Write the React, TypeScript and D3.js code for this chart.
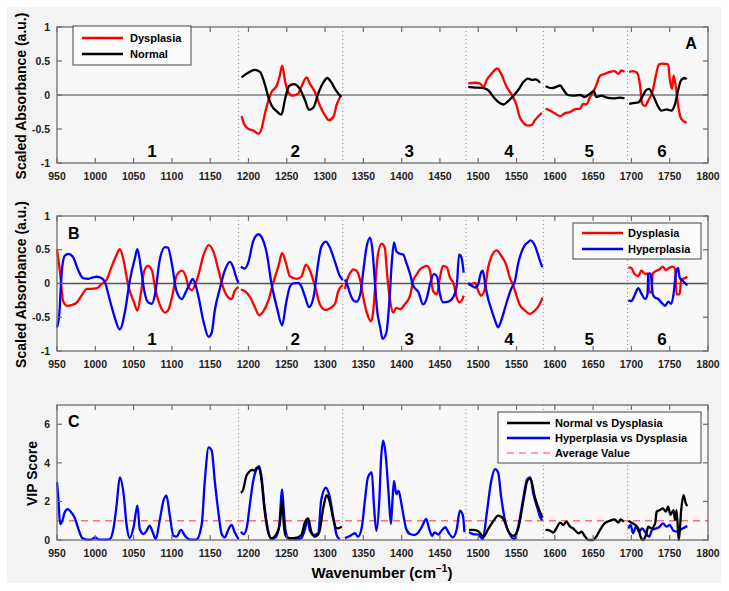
import React, { useRef, useEffect } from "react";
import * as d3 from "d3";

type Pt = [number, number];

// shared x layout
const xTicks = d3.range(950, 1801, 50);
const regionEdges = [1187, 1323, 1484, 1585, 1695];
const regionNames = ["1", "2", "3", "4", "5", "6"];
const regionCenters = [1074, 1261, 1410, 1540, 1645, 1740];
const absTicks = [-1, -0.5, 0, 0.5, 1];
const vipTicks = [0, 2, 4, 6];
const vipAverage = 1;

// panel A: Dysplasia vs Normal loadings
const dysplasiaA: Pt[][] = [
  [[1191, -0.31], [1194, -0.42], [1200, -0.5], [1206, -0.52], [1213, -0.57], [1217, -0.5], [1221, -0.3], [1226, -0.08], [1230, 0.04], [1237, 0.14], [1241, 0.29], [1244, 0.43], [1248, 0.19], [1252, 0.04], [1258, -0.01], [1265, 0.02], [1269, 0.12], [1276, 0.26], [1280, 0.17], [1287, 0.04], [1293, -0.15], [1300, -0.3], [1305, -0.37], [1311, -0.32], [1315, -0.15], [1321, 0.0]],
  [[1487, 0.17], [1496, 0.18], [1502, 0.17], [1507, 0.12], [1511, 0.22], [1517, 0.31], [1525, 0.39], [1530, 0.31], [1537, 0.12], [1544, 0.0], [1550, -0.15], [1554, -0.32], [1559, -0.41], [1565, -0.45], [1570, -0.44], [1574, -0.37], [1578, -0.32], [1583, -0.26]],
  [[1588, -0.2], [1594, -0.23], [1600, -0.27], [1607, -0.31], [1613, -0.27], [1620, -0.25], [1626, -0.21], [1633, -0.2], [1637, -0.13], [1641, -0.14], [1646, -0.03], [1650, 0.04], [1654, 0.14], [1659, 0.28], [1665, 0.31], [1672, 0.34], [1678, 0.35], [1683, 0.31], [1687, 0.36], [1691, 0.34]],
  [[1697, 0.34], [1702, 0.35], [1707, 0.33], [1711, 0.17], [1714, -0.13], [1718, -0.16], [1722, -0.08], [1728, 0.07], [1732, 0.29], [1736, 0.45], [1741, 0.46], [1748, 0.45], [1750, 0.24], [1753, 0.09], [1755, 0.29], [1758, 0.12], [1761, -0.15], [1765, -0.35], [1772, -0.41]],
];
const normalA: Pt[][] = [
  [[1191, 0.26], [1200, 0.33], [1208, 0.37], [1215, 0.34], [1221, 0.17], [1226, -0.03], [1230, -0.15], [1237, -0.24], [1243, -0.29], [1248, -0.05], [1253, 0.13], [1259, 0.16], [1267, 0.09], [1274, -0.08], [1279, -0.22], [1285, -0.18], [1291, 0.02], [1298, 0.19], [1303, 0.25], [1308, 0.19], [1314, 0.07], [1321, -0.03]],
  [[1487, 0.12], [1496, 0.11], [1507, 0.1], [1513, 0.07], [1520, -0.03], [1526, -0.1], [1533, -0.14], [1539, -0.09], [1546, -0.01], [1552, 0.07], [1559, 0.19], [1565, 0.24], [1571, 0.22], [1575, 0.23], [1581, 0.18]],
  [[1588, 0.13], [1596, 0.1], [1602, 0.12], [1607, 0.14], [1611, 0.08], [1617, 0.0], [1624, -0.01], [1633, 0.0], [1639, -0.03], [1646, 0.02], [1651, 0.06], [1654, -0.03], [1661, -0.01], [1668, -0.04], [1676, -0.05], [1685, -0.04], [1691, -0.05]],
  [[1697, -0.13], [1702, -0.12], [1709, -0.11], [1714, -0.03], [1719, 0.07], [1723, 0.09], [1728, 0.0], [1734, -0.15], [1739, -0.23], [1746, -0.21], [1752, -0.23], [1757, -0.13], [1761, 0.07], [1765, 0.22], [1770, 0.25], [1772, 0.23]],
];

// panel B: Dysplasia vs Hyperplasia loadings
const dysplasiaB: Pt[][] = [
  [[950, 0.51], [954, 0.16], [958, -0.26], [963, -0.33], [969, -0.32], [976, -0.28], [982, -0.18], [989, -0.08], [995, -0.08], [1002, -0.07], [1008, -0.01], [1015, 0.06], [1021, 0.24], [1028, 0.43], [1032, 0.51], [1037, 0.34], [1043, -0.03], [1050, -0.26], [1055, -0.4], [1060, -0.11], [1064, 0.19], [1069, 0.26], [1074, 0.19], [1078, -0.06], [1084, -0.31], [1091, -0.43], [1095, -0.4], [1100, -0.21], [1106, 0.11], [1113, 0.19], [1118, 0.11], [1122, -0.06], [1126, -0.1], [1130, -0.03], [1135, 0.14], [1141, 0.41], [1148, 0.57], [1154, 0.48], [1161, 0.19], [1167, -0.06], [1174, -0.21], [1178, -0.23], [1182, -0.11], [1187, -0.05]],
  [[1190, -0.09], [1195, -0.11], [1202, -0.2], [1208, -0.34], [1214, -0.47], [1219, -0.42], [1226, -0.25], [1232, 0.0], [1239, 0.25], [1244, 0.45], [1249, 0.3], [1254, 0.11], [1263, 0.07], [1269, 0.1], [1275, 0.28], [1280, 0.2], [1287, -0.05], [1293, -0.3], [1300, -0.39], [1306, -0.37], [1313, -0.3], [1317, -0.12], [1323, -0.02]],
  [[1326, -0.08], [1329, 0.06], [1333, 0.16], [1337, 0.21], [1341, 0.19], [1346, 0.04], [1350, -0.21], [1355, -0.45], [1360, -0.56], [1363, -0.4], [1366, 0.04], [1369, 0.43], [1374, 0.59], [1378, 0.53], [1381, 0.14], [1385, -0.26], [1389, -0.43], [1393, -0.36], [1398, -0.38], [1404, -0.31], [1411, -0.18], [1415, 0.04], [1420, 0.14], [1424, 0.21], [1428, 0.24], [1433, 0.26], [1437, 0.19], [1441, -0.11], [1446, -0.16], [1450, 0.09], [1454, 0.26], [1459, 0.24], [1463, 0.09], [1468, -0.01], [1472, -0.21], [1475, -0.28], [1478, -0.26], [1481, -0.18]],
  [[1487, -0.02], [1491, -0.01], [1496, 0.01], [1500, -0.11], [1504, -0.18], [1509, -0.06], [1513, 0.24], [1517, 0.39], [1524, 0.49], [1530, 0.41], [1537, 0.26], [1541, 0.09], [1545, -0.01], [1550, -0.18], [1554, -0.31], [1561, -0.4], [1567, -0.45], [1574, -0.4], [1580, -0.31], [1584, -0.21]],
  [[1696, 0.24], [1700, 0.23], [1704, 0.14], [1709, 0.11], [1713, 0.19], [1718, 0.14], [1722, 0.15], [1723, -0.13], [1726, -0.13], [1728, 0.15], [1733, 0.19], [1737, 0.21], [1741, 0.25], [1745, 0.2], [1749, 0.23], [1754, 0.25], [1757, 0.21], [1759, -0.16], [1763, -0.16], [1765, 0.06], [1770, 0.08], [1773, 0.1]],
];
const hyperplasiaB: Pt[][] = [
  [[950, -0.65], [953, -0.45], [956, 0.14], [960, 0.41], [965, 0.44], [971, 0.39], [978, 0.19], [984, 0.08], [991, 0.07], [997, 0.09], [1002, 0.1], [1008, 0.08], [1013, 0.01], [1017, -0.16], [1024, -0.45], [1032, -0.68], [1039, -0.4], [1045, 0.04], [1052, 0.39], [1055, 0.51], [1060, 0.19], [1064, -0.11], [1069, -0.28], [1074, -0.3], [1078, -0.16], [1084, 0.34], [1091, 0.54], [1095, 0.53], [1100, 0.29], [1106, -0.11], [1113, -0.23], [1118, -0.13], [1124, 0.01], [1127, 0.07], [1130, 0.01], [1135, -0.21], [1141, -0.55], [1148, -0.79], [1152, -0.73], [1156, -0.4], [1163, -0.06], [1169, 0.19], [1176, 0.32], [1180, 0.24], [1185, 0.06], [1187, 0.01]],
  [[1190, 0.25], [1195, 0.22], [1200, 0.32], [1206, 0.62], [1213, 0.73], [1217, 0.69], [1224, 0.44], [1230, 0.0], [1237, -0.35], [1244, -0.62], [1249, -0.3], [1254, -0.05], [1258, 0.0], [1265, 0.01], [1269, -0.04], [1274, -0.2], [1279, -0.35], [1285, -0.2], [1291, 0.3], [1295, 0.54], [1301, 0.62], [1306, 0.54], [1313, 0.32], [1319, 0.12], [1323, 0.05]],
  [[1326, 0.06], [1329, -0.02], [1333, -0.16], [1337, -0.25], [1341, -0.27], [1346, -0.16], [1350, 0.19], [1354, 0.53], [1359, 0.68], [1362, 0.48], [1365, 0.04], [1368, -0.4], [1372, -0.65], [1375, -0.82], [1380, -0.73], [1384, -0.26], [1387, 0.29], [1390, 0.61], [1393, 0.48], [1398, 0.44], [1402, 0.43], [1406, 0.31], [1411, 0.14], [1415, -0.03], [1422, -0.13], [1428, -0.31], [1433, -0.21], [1437, -0.01], [1442, 0.14], [1446, 0.11], [1450, -0.16], [1454, -0.28], [1461, -0.27], [1467, -0.21], [1472, -0.03], [1475, 0.43], [1478, 0.39], [1481, 0.16]],
  [[1487, 0.01], [1491, -0.03], [1496, -0.06], [1500, -0.01], [1503, 0.14], [1506, 0.19], [1509, -0.01], [1513, -0.23], [1517, -0.38], [1522, -0.55], [1526, -0.65], [1530, -0.55], [1535, -0.36], [1539, -0.21], [1543, -0.08], [1548, 0.04], [1552, 0.29], [1557, 0.48], [1561, 0.57], [1565, 0.61], [1568, 0.64], [1574, 0.56], [1578, 0.43], [1582, 0.29], [1584, 0.24]],
  [[1696, -0.25], [1700, -0.26], [1704, -0.18], [1709, -0.07], [1713, -0.15], [1718, -0.23], [1721, -0.16], [1722, 0.14], [1725, 0.15], [1728, -0.16], [1731, -0.21], [1735, -0.23], [1739, -0.28], [1744, -0.33], [1748, -0.27], [1752, -0.3], [1755, -0.16], [1758, 0.14], [1761, 0.23], [1763, 0.09], [1767, 0.04], [1773, -0.03]],
];

// panel C: VIP scores
const normalVsDysC: Pt[][] = [
  [[1190, 2.45], [1193, 2.6], [1197, 3.28], [1201, 3.54], [1205, 3.63], [1208, 3.6], [1211, 3.75], [1214, 3.71], [1217, 3.1], [1221, 1.55], [1226, 0.35], [1230, 0.09], [1237, 0.35], [1241, 0.86], [1244, 2.07], [1246, 0.86], [1249, 0.17], [1254, 0.09], [1263, 0.12], [1269, 0.26], [1274, 0.95], [1278, 1.12], [1282, 0.43], [1287, 0.17], [1292, 0.35], [1298, 1.73], [1302, 2.33], [1306, 1.99], [1311, 1.04], [1315, 0.6], [1322, 0.69]],
  [[1488, 0.52], [1493, 0.52], [1500, 0.45], [1507, 0.17], [1513, 0.57], [1520, 1.0], [1526, 1.26], [1533, 1.09], [1539, 0.48], [1546, 0.22], [1552, 0.57], [1559, 2.04], [1564, 3.07], [1568, 3.2], [1574, 2.21], [1580, 1.52], [1584, 1.17]],
  [[1588, 0.52], [1594, 0.48], [1598, 0.38], [1602, 0.6], [1607, 0.9], [1611, 0.78], [1615, 0.95], [1620, 0.69], [1624, 0.6], [1631, 0.35], [1635, 0.43], [1639, 0.21], [1644, 0.0], [1650, 0.0], [1654, 0.17], [1659, 0.52], [1665, 0.86], [1672, 1.0], [1678, 1.07], [1683, 0.9], [1686, 1.07], [1690, 0.95]],
  [[1696, 1.0], [1700, 0.9], [1705, 0.78], [1709, 0.6], [1712, 0.17], [1715, 0.0], [1719, 0.26], [1722, 0.69], [1726, 0.6], [1731, 0.86], [1733, 1.47], [1737, 1.55], [1741, 1.64], [1745, 1.47], [1748, 1.73], [1751, 1.3], [1755, 1.55], [1757, 1.04], [1759, 1.55], [1761, 0.35], [1762, 0.0], [1765, 1.55], [1768, 2.33], [1771, 1.9], [1773, 1.76]],
];
const hyperVsDysC: Pt[][] = [
  [[950, 3.0], [952, 2.0], [954, 0.83], [957, 1.0], [960, 1.43], [964, 1.6], [968, 1.47], [973, 1.17], [978, 0.57], [983, 0.1], [989, 0.02], [995, 0.02], [1000, 0.14], [1004, 0.03], [1013, 0.02], [1019, 0.05], [1024, 0.66], [1028, 1.87], [1032, 3.25], [1037, 2.38], [1041, 0.74], [1045, 0.1], [1050, 0.66], [1055, 1.78], [1058, 0.57], [1063, 0.31], [1067, 0.48], [1071, 0.74], [1075, 0.4], [1079, 0.05], [1084, 1.0], [1089, 2.04], [1093, 2.3], [1097, 1.35], [1102, 0.22], [1106, 0.17], [1112, 0.52], [1117, 0.22], [1124, 0.02], [1132, 0.02], [1139, 0.83], [1143, 3.07], [1148, 4.8], [1152, 4.63], [1156, 3.07], [1161, 1.35], [1165, 0.31], [1169, 0.14], [1174, 0.57], [1178, 0.78], [1182, 0.4], [1187, 0.05]],
  [[1190, 0.43], [1194, 0.31], [1198, 0.69], [1202, 1.9], [1206, 3.02], [1211, 3.71], [1214, 3.83], [1217, 3.28], [1221, 1.73], [1226, 0.43], [1230, 0.03], [1236, 0.17], [1240, 0.69], [1244, 2.63], [1246, 1.55], [1249, 0.35], [1254, 0.03], [1263, 0.03], [1269, 0.09], [1274, 0.6], [1277, 1.07], [1280, 0.52], [1285, 0.26], [1291, 0.35], [1295, 2.07], [1301, 2.71], [1306, 2.25], [1311, 1.12], [1315, 0.26], [1319, 0.03]],
  [[1326, 0.1], [1333, 0.22], [1339, 0.35], [1343, 0.17], [1348, 0.66], [1352, 2.04], [1356, 3.25], [1361, 3.5], [1364, 1.69], [1367, 0.48], [1371, 2.21], [1373, 4.11], [1376, 5.15], [1379, 4.46], [1383, 2.38], [1386, 0.83], [1388, 2.04], [1390, 3.07], [1393, 2.38], [1396, 2.55], [1399, 2.04], [1402, 1.35], [1406, 0.57], [1411, 0.31], [1417, 0.26], [1422, 0.4], [1427, 0.74], [1432, 1.09], [1436, 0.57], [1440, 0.22], [1443, 0.4], [1448, 0.28], [1452, 0.48], [1457, 0.66], [1461, 0.4], [1467, 0.14], [1472, 0.57], [1476, 1.52], [1480, 1.26], [1482, 0.4]],
  [[1488, 0.4], [1493, 0.31], [1500, 0.28], [1506, 0.05], [1511, 1.35], [1517, 3.07], [1522, 3.68], [1526, 3.5], [1530, 2.21], [1536, 0.83], [1541, 0.31], [1547, 0.05], [1552, 0.66], [1559, 2.21], [1564, 3.16], [1568, 3.25], [1572, 2.38], [1577, 1.69], [1581, 1.17], [1584, 1.04]],
  [[1696, 0.6], [1699, 0.78], [1702, 0.35], [1706, 0.69], [1710, 0.43], [1714, 0.6], [1719, 0.35], [1723, 0.17], [1727, 0.52], [1732, 0.6], [1736, 0.66], [1741, 0.86], [1746, 0.69], [1750, 0.78], [1755, 0.48], [1761, 0.43], [1765, 0.55], [1773, 0.72]],
];

const RED = "#ff0000";
const BLUE = "#0000ff";
const BLACK = "#000000";
const FONT = "'Liberation Sans', Arial, Helvetica, sans-serif";

export default function App() {
  const d3Chart = useRef(null);

  useEffect(() => {
    const width = 729,
      height = 591;
    const left = 57,
      right = 708;

    const svg = d3.select(d3Chart.current);
    svg.selectAll("*").remove();
    svg.attr("width", width).attr("height", height);

    svg.append("rect").attr("width", width).attr("height", height).attr("fill", "#ffffff");
    svg.append("rect").attr("x", 7).attr("y", 7).attr("width", 714).attr("height", 576).attr("fill", "#f3f3f3");

    const x = d3.scaleLinear().domain([950, 1800]).range([left, right]);

    const panels = [
      {
        key: "A", top: 27, bottom: 163, domain: [-1, 1], ticks: absTicks,
        series: [{ data: dysplasiaA, color: RED }, { data: normalA, color: BLACK }],
        zeroColor: "#9a9a9a", zeroWidth: 2, regions: true,
        title: "Scaled Absorbance (a.u.)", titleX: 21,
        letter: { x: 691, y: 49, anchor: "middle" },
        legend: { x: 73, y: 26, w: 118, h: 39, rows: [38, 54], lx: 82, lw: 41, tx: 130,
          items: [{ label: "Dysplasia", color: RED, dash: null }, { label: "Normal", color: BLACK, dash: null }] },
      },
      {
        key: "B", top: 216, bottom: 351, domain: [-1, 1], ticks: absTicks,
        series: [{ data: dysplasiaB, color: RED }, { data: hyperplasiaB, color: BLUE }],
        zeroColor: "#555555", zeroWidth: 1.3, regions: true,
        title: "Scaled Absorbance (a.u.)", titleX: 21,
        letter: { x: 68, y: 239, anchor: "start" },
        legend: { x: 573, y: 223, w: 128, h: 36, rows: [233, 249], lx: 582, lw: 41, tx: 628,
          items: [{ label: "Dysplasia", color: RED, dash: null }, { label: "Hyperplasia", color: BLUE, dash: null }] },
      },
      {
        key: "C", top: 405, bottom: 540, domain: [0, 7], ticks: vipTicks,
        series: [{ data: hyperVsDysC, color: BLUE }, { data: normalVsDysC, color: BLACK }],
        zeroColor: null, zeroWidth: 0, regions: false,
        title: "VIP Score", titleX: 32,
        letter: { x: 68, y: 427, anchor: "start" },
        legend: { x: 498, y: 412, w: 203, h: 51, rows: [423, 438, 453], lx: 507, lw: 43, tx: 555,
          items: [
            { label: "Normal vs Dysplasia", color: BLACK, dash: null },
            { label: "Hyperplasia vs Dysplasia", color: BLUE, dash: null },
            { label: "Average Value", color: "#ff8080", dash: "7,5" },
          ] },
      },
    ];

    panels.forEach((p) => {
      const y = d3.scaleLinear().domain(p.domain).range([p.bottom, p.top]);
      const g = svg.append("g");

      g.append("rect")
        .attr("x", left).attr("y", p.top)
        .attr("width", right - left).attr("height", p.bottom - p.top)
        .attr("fill", "#f8f8f8");

      // zero line
      if (p.zeroColor) {
        g.append("line")
          .attr("x1", left).attr("x2", right)
          .attr("y1", y(0)).attr("y2", y(0))
          .attr("stroke", p.zeroColor).attr("stroke-width", p.zeroWidth);
      }

      // region dividers
      g.selectAll(".edge")
        .data(regionEdges)
        .enter()
        .append("line")
        .attr("x1", (d) => x(d)).attr("x2", (d) => x(d))
        .attr("y1", p.top).attr("y2", p.bottom)
        .attr("stroke", "#888").attr("stroke-width", 1)
        .attr("stroke-dasharray", "1,3");

      // average line
      if (p.key === "C") {
        g.append("line")
          .attr("x1", left).attr("x2", right)
          .attr("y1", y(vipAverage)).attr("y2", y(vipAverage))
          .attr("stroke", "#ff7070").attr("stroke-width", 1.5)
          .attr("stroke-dasharray", "7,5");
      }

      const line = d3
        .line<Pt>()
        .x((d) => x(d[0]))
        .y((d) => y(d[1]))
        .curve(d3.curveMonotoneX);

      p.series.forEach((s) => {
        g.selectAll(null)
          .data(s.data)
          .enter()
          .append("path")
          .attr("d", (d) => line(d))
          .attr("fill", "none")
          .attr("stroke", s.color)
          .attr("stroke-width", 2.3)
          .attr("stroke-linejoin", "round");
      });

      // region numbers
      if (p.regions) {
        g.selectAll(".reg")
          .data(regionNames)
          .enter()
          .append("text")
          .attr("x", (d, i) => x(regionCenters[i]))
          .attr("y", p.bottom - 6)
          .attr("text-anchor", "middle")
          .attr("font-family", FONT)
          .attr("font-weight", "bold")
          .attr("font-size", 17)
          .text((d) => d);
      }

      // axes box
      g.append("rect")
        .attr("x", left).attr("y", p.top)
        .attr("width", right - left).attr("height", p.bottom - p.top)
        .attr("fill", "none").attr("stroke", "#6e6e6e").attr("stroke-width", 1.3);

      // x ticks (top and bottom, inward)
      xTicks.forEach((t) => {
        g.append("line").attr("x1", x(t)).attr("x2", x(t)).attr("y1", p.bottom).attr("y2", p.bottom - 5)
          .attr("stroke", "#6e6e6e").attr("stroke-width", 1.2);
        g.append("line").attr("x1", x(t)).attr("x2", x(t)).attr("y1", p.top).attr("y2", p.top + 5)
          .attr("stroke", "#6e6e6e").attr("stroke-width", 1.2);
      });
      g.selectAll(".xl")
        .data(xTicks)
        .enter()
        .append("text")
        .attr("x", (d) => x(d))
        .attr("y", p.bottom + 16.5)
        .attr("text-anchor", "middle")
        .attr("font-family", FONT)
        .attr("font-weight", "bold")
        .attr("font-size", 10.5)
        .attr("fill", "#222")
        .text((d) => d);

      // y ticks
      p.ticks.forEach((t) => {
        g.append("line").attr("x1", left).attr("x2", left + 5).attr("y1", y(t)).attr("y2", y(t))
          .attr("stroke", "#6e6e6e").attr("stroke-width", 1.2);
        g.append("line").attr("x1", right).attr("x2", right - 5).attr("y1", y(t)).attr("y2", y(t))
          .attr("stroke", "#6e6e6e").attr("stroke-width", 1.2);
      });
      g.selectAll(".yl")
        .data(p.ticks)
        .enter()
        .append("text")
        .attr("x", left - 7)
        .attr("y", (d) => y(d))
        .attr("dy", "0.35em")
        .attr("text-anchor", "end")
        .attr("font-family", FONT)
        .attr("font-weight", "bold")
        .attr("font-size", 10.5)
        .attr("fill", "#222")
        .text((d) => String(d));

      // y title
      g.append("text")
        .attr("transform", `translate(${p.titleX},${(p.top + p.bottom) / 2 + 1}) rotate(-90)`)
        .attr("dy", "0.35em")
        .attr("text-anchor", "middle")
        .attr("font-family", FONT)
        .attr("font-weight", "bold")
        .attr("font-size", 14)
        .text(p.title);

      // panel letter
      g.append("text")
        .attr("x", p.letter.x)
        .attr("y", p.letter.y)
        .attr("text-anchor", p.letter.anchor)
        .attr("font-family", FONT)
        .attr("font-weight", "bold")
        .attr("font-size", 16)
        .text(p.key);

      // legend
      const L = p.legend;
      g.append("rect")
        .attr("x", L.x).attr("y", L.y).attr("width", L.w).attr("height", L.h)
        .attr("fill", "#fbfbfb").attr("stroke", "#444").attr("stroke-width", 1);
      L.items.forEach((it, i) => {
        g.append("line")
          .attr("x1", L.lx).attr("x2", L.lx + L.lw)
          .attr("y1", L.rows[i]).attr("y2", L.rows[i])
          .attr("stroke", it.color)
          .attr("stroke-width", it.dash ? 1.5 : 2.3)
          .attr("stroke-dasharray", it.dash);
        g.append("text")
          .attr("x", L.tx).attr("y", L.rows[i])
          .attr("dy", "0.35em")
          .attr("font-family", FONT)
          .attr("font-weight", "bold")
          .attr("font-size", 11)
          .text(it.label);
      });
    });

    // x axis title
    const xt = svg
      .append("text")
      .attr("x", 382)
      .attr("y", 578)
      .attr("text-anchor", "middle")
      .attr("font-family", FONT)
      .attr("font-weight", "bold")
      .attr("font-size", 15);
    xt.append("tspan").text("Wavenumber (cm");
    xt.append("tspan").attr("dy", -6).attr("font-size", 10).text("\u22121");
    xt.append("tspan").attr("dy", 6).text(")");
  }, []);

  return (
    <div style={{ position: "absolute", left: 0, top: 0 }}>
      <svg ref={d3Chart}></svg>
    </div>
  );
}
